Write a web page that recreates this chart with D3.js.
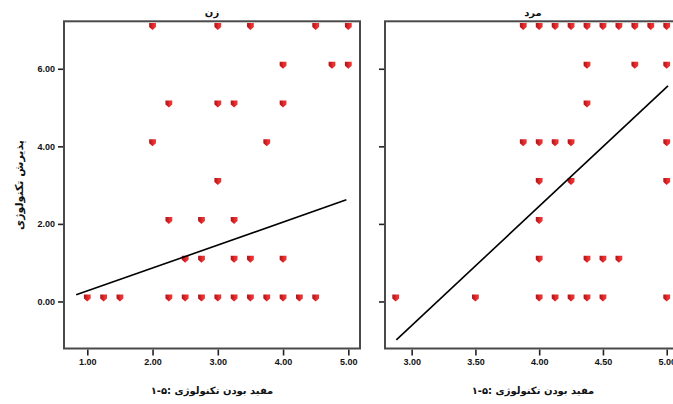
<!DOCTYPE html>
<html>
<head>
<meta charset="utf-8">
<script src="https://cdn.jsdelivr.net/npm/d3@7"></script>
<style>
  html, body { margin: 0; padding: 0; background: #fff; }
  svg { display: block; }
  .tick text { font-family: "Liberation Sans", Arial, sans-serif; font-weight: bold; font-size: 9px; fill: #111; }
  .fa { font-family: "DejaVu Sans", sans-serif; font-weight: bold; fill: #111; }
</style>
</head>
<body>
<svg id="chart" width="673" height="404"></svg>
<script>
// Panel titles
const panelNames = ["زن", "مرد"];

// Women: technology usefulness (x) vs technology acceptance (y)
const womenX = [2, 3, 3.5, 4.5, 5,
                4, 4.75, 5,
                2.25, 3, 3.25, 4,
                2, 3.75,
                3,
                2.25, 2.75, 3.25,
                2.5, 2.75, 3.25, 3.5, 4,
                1, 1.25, 1.5, 2.25, 2.5, 2.75, 3, 3.25, 3.5, 3.75, 4, 4.25, 4.5];
const womenY = [7, 7, 7, 7, 7,
                6, 6, 6,
                5, 5, 5, 5,
                4, 4,
                3,
                2, 2, 2,
                1, 1, 1, 1, 1,
                0, 0, 0, 0, 0, 0, 0, 0, 0, 0, 0, 0, 0];

// Men
const menX = [3.875, 4, 4.125, 4.25, 4.375, 4.5, 4.625, 4.75, 4.875, 5,
              4.375, 4.75, 5,
              4.375,
              3.875, 4, 4.125, 4.25, 5,
              4, 4.25, 5,
              4,
              4, 4.375, 4.5, 4.625,
              2.875, 3.5, 4, 4.125, 4.25, 4.375, 4.5, 5];
const menY = [7, 7, 7, 7, 7, 7, 7, 7, 7, 7,
              6, 6, 6,
              5,
              4, 4, 4, 4, 4,
              3, 3, 3,
              2,
              1, 1, 1, 1,
              0, 0, 0, 0, 0, 0, 0, 0];

// Fitted lines: [x, y] at both ends
const womenFit = [[0.83, 0.17], [4.97, 2.62]];
const menFit = [[2.88, -0.99], [5.01, 5.56]];

// Axis ticks
const yTicks = [0, 2, 4, 6];
const womenXTicks = [1, 2, 3, 4, 5];
const menXTicks = [3, 3.5, 4, 4.5, 5];

const xTitle = "مفید بودن تکنولوژی :۵-۱";
const yTitle = "پذیرش تکنولوژی";

const svg = d3.select("#chart");
const plotTop = 21.3, plotBottom = 348.5;

const y = d3.scaleLinear().domain([-1.213, 7.224]).range([plotBottom, plotTop]);

const defs = svg.append("defs");
const grad = defs.append("linearGradient").attr("id", "mk").attr("x1", "0").attr("x2", "1");
grad.append("stop").attr("offset", "0").attr("stop-color", "#9e1b1f");
grad.append("stop").attr("offset", "0.4").attr("stop-color", "#c92227");
grad.append("stop").attr("offset", "0.6").attr("stop-color", "#f02a2c");
grad.append("stop").attr("offset", "1").attr("stop-color", "#f5322f");

const marker = "M-3.4,-7 H3.4 V-3 L0,0 L-3.4,-3 Z";

const panels = [
  { name: panelNames[0], xs: womenX, ys: womenY, fit: womenFit, ticks: womenXTicks,
    left: 64, right: 360, domain: [0.643, 5.179], yLabels: true },
  { name: panelNames[1], xs: menX, ys: menY, fit: menFit, ticks: menXTicks,
    left: 385, right: 681, domain: [2.791, 5.112], yLabels: false }
];

panels.forEach(p => {
  const x = d3.scaleLinear().domain(p.domain).range([p.left, p.right]);
  const g = svg.append("g");

  // y axis
  const ya = g.append("g").attr("transform", `translate(${p.left - 1},0)`)
    .call(d3.axisLeft(y).tickValues(yTicks).tickSize(5).tickPadding(3)
      .tickFormat(p.yLabels ? d3.format(".2f") : () => ""));
  ya.select(".domain").remove();
  ya.selectAll(".tick line").attr("stroke", "#222").attr("stroke-width", 1.6);

  // x axis
  const xa = g.append("g").attr("transform", `translate(0,${plotBottom + 1})`)
    .call(d3.axisBottom(x).tickValues(p.ticks).tickSize(6).tickPadding(3)
      .tickFormat(d3.format(".2f")));
  xa.select(".domain").remove();
  xa.selectAll(".tick line").attr("stroke", "#222").attr("stroke-width", 1.6);

  // points
  g.append("g").selectAll("path").data(p.xs.map((v, i) => [v, p.ys[i]])).join("path")
    .attr("d", marker)
    .attr("transform", d => `translate(${x(d[0])},${y(d[1])})`)
    .attr("fill", "url(#mk)");

  // fitted line
  g.append("path")
    .attr("d", d3.line().x(d => x(d[0])).y(d => y(d[1]))(p.fit))
    .attr("fill", "none").attr("stroke", "#000").attr("stroke-width", 1.6);

  // frame
  g.append("rect")
    .attr("x", p.left).attr("y", plotTop)
    .attr("width", p.right - p.left).attr("height", plotBottom - plotTop)
    .attr("fill", "none").attr("stroke", "#4a4a4a").attr("stroke-width", 2);

  const cx = (p.left + p.right) / 2;
  g.append("text").attr("class", "fa")
    .attr("x", cx).attr("y", 16).attr("text-anchor", "middle")
    .attr("font-size", 10).text(p.name);

  g.append("text").attr("class", "fa")
    .attr("x", cx).attr("y", 394).attr("text-anchor", "middle")
    .attr("direction", "rtl")
    .attr("font-size", 10).text(xTitle);
});

svg.append("text").attr("class", "fa")
  .attr("transform", "translate(23,185) rotate(-90)")
  .attr("text-anchor", "middle").attr("font-size", 11)
  .text(yTitle);
</script>
</body>
</html>
